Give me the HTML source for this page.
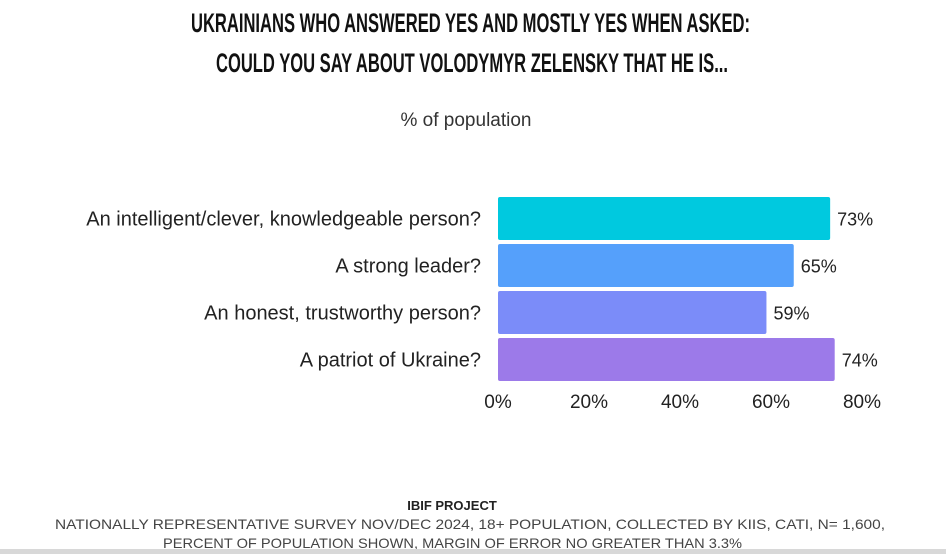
<!DOCTYPE html>
<html><head><meta charset="utf-8"><style>
html,body{margin:0;padding:0;background:#fff;}
svg{display:block;font-family:"Liberation Sans",sans-serif;}
</style></head><body>
<svg id="chart" width="946" height="554" viewBox="0 0 946 554">
<text x="191" y="32" textLength="559" lengthAdjust="spacingAndGlyphs" font-size="27" font-weight="bold" fill="#111">UKRAINIANS WHO ANSWERED YES AND MOSTLY YES WHEN ASKED:</text>
<text x="216" y="72" textLength="512" lengthAdjust="spacingAndGlyphs" font-size="27" font-weight="bold" fill="#111">COULD YOU SAY ABOUT VOLODYMYR ZELENSKY THAT HE IS...</text>
<text x="466" y="126" text-anchor="middle" font-size="19" fill="#333">% of population</text>
<g id="bars"></g>
<g id="xticks"></g>
<text x="452" y="510" text-anchor="middle" font-size="13" font-weight="bold" fill="#222">IBIF PROJECT</text>
<text x="55" y="529" textLength="830" lengthAdjust="spacingAndGlyphs" font-size="14" fill="#444">NATIONALLY REPRESENTATIVE SURVEY NOV/DEC 2024, 18+ POPULATION, COLLECTED BY KIIS, CATI, N= 1,600,</text>
<text x="163" y="548" textLength="579" lengthAdjust="spacingAndGlyphs" font-size="14" fill="#444">PERCENT OF POPULATION SHOWN, MARGIN OF ERROR NO GREATER THAN 3.3%</text>
<rect x="0" y="549" width="946" height="5" fill="#d8d8d8"/>
</svg>
<script>
const categories = ["An intelligent/clever, knowledgeable person?","A strong leader?","An honest, trustworthy person?","A patriot of Ukraine?"];
const values = [73, 65, 59, 74];
const tickValues = [0, 20, 40, 60, 80];
const tickLabels = ["0%", "20%", "40%", "60%", "80%"];
const colors = ["#00c9df", "#55a0fb", "#7b8cf9", "#9c7ae9"];

const NS = "http://www.w3.org/2000/svg";
const x0 = 498, xPerUnit = 364 / 80;
const xScale = v => x0 + v * xPerUnit;
const bandTop = 197, bandStep = 47, barH = 43;
const yScale = i => bandTop + i * bandStep;

const gb = document.getElementById("bars");
categories.forEach((c, i) => {
  const y = yScale(i);
  const r = document.createElementNS(NS, "rect");
  
  
  r.setAttribute("x", x0); r.setAttribute("y", y);
  r.setAttribute("width", xScale(values[i]) - x0); r.setAttribute("height", barH);
  r.setAttribute("rx", 2); r.setAttribute("fill", colors[i]);
  gb.appendChild(r);
  const l = document.createElementNS(NS, "text");
  
  
  l.setAttribute("x", 481); l.setAttribute("y", y + barH / 2 + 7);
  l.setAttribute("text-anchor", "end"); l.setAttribute("font-size", "20"); l.setAttribute("fill", "#222");
  l.textContent = c; gb.appendChild(l);
  const v = document.createElementNS(NS, "text");
  
  
  v.setAttribute("x", xScale(values[i]) + 7); v.setAttribute("y", y + barH / 2 + 7);
  v.setAttribute("font-size", "18"); v.setAttribute("fill", "#222");
  v.textContent = values[i] + "%"; gb.appendChild(v);
});
const gt = document.getElementById("xticks");
tickValues.forEach((t, i) => {
  const tx = document.createElementNS(NS, "text");
  
  
  tx.setAttribute("x", xScale(t)); tx.setAttribute("y", 408);
  tx.setAttribute("text-anchor", "middle"); tx.setAttribute("font-size", "19"); tx.setAttribute("fill", "#222");
  tx.textContent = tickLabels[i]; gt.appendChild(tx);
});
</script>
</body></html>
